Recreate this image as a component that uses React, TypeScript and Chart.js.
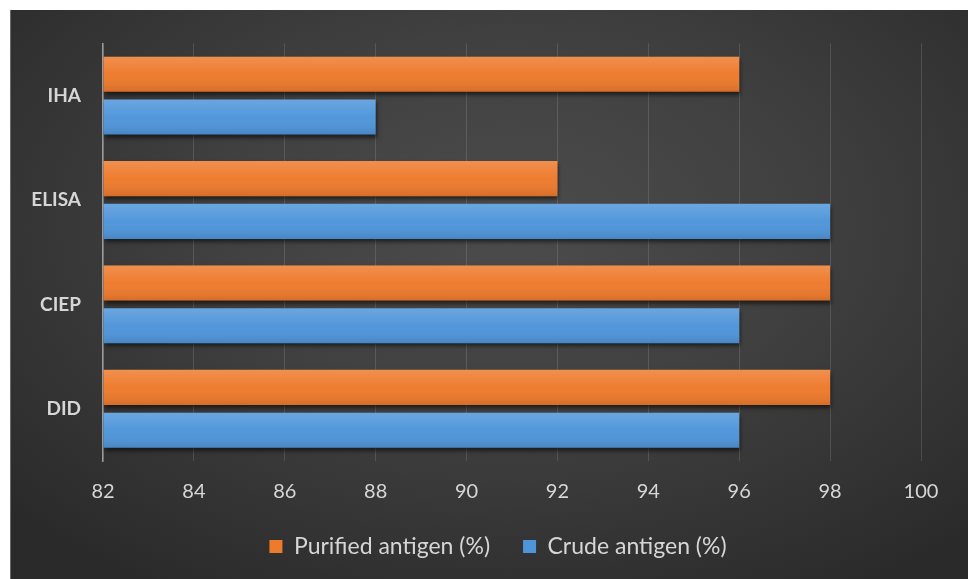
import React, { useEffect, useRef } from "react";
import { Chart, registerables } from "chart.js";

Chart.register(...registerables);

const categories = ["IHA", "ELISA", "CIEP", "DID"];
const purifiedValues = [96, 92, 98, 98];
const crudeValues = [88, 98, 96, 96];
const seriesLabels = ["Purified antigen (%)", "Crude antigen (%)"];
const axisMin = 82;
const axisMax = 100;
const axisStep = 2;

const FONT = "Lato, 'Open Sans', sans-serif";
const TEXT = "#d6d6d6";

// Soft drop shadow under each dataset's bars
const barShadow = {
  id: "barShadow",
  beforeDatasetDraw(chart: any) {
    const ctx = chart.ctx;
    ctx.save();
    ctx.shadowColor = "rgba(0,0,0,0.55)";
    ctx.shadowBlur = 4;
    ctx.shadowOffsetX = 1;
    ctx.shadowOffsetY = 3;
  },
  afterDatasetDraw(chart: any) {
    chart.ctx.restore();
  },
};

// Light-to-dark vertical sheen over each bar
const barSheen = {
  id: "barSheen",
  afterDatasetsDraw(chart: any) {
    const ctx = chart.ctx;
    const area = chart.chartArea;
    ctx.save();
    ctx.beginPath();
    ctx.rect(area.left, area.top, area.right - area.left, area.bottom - area.top);
    ctx.clip();
    chart.data.datasets.forEach((_: any, di: number) => {
      const meta = chart.getDatasetMeta(di);
      meta.data.forEach((el: any) => {
        const { x, y, base, height } = el.getProps(["x", "y", "base", "height"], true);
        const top = y - height / 2;
        const g = ctx.createLinearGradient(0, top, 0, top + height);
        g.addColorStop(0, "rgba(255,255,255,0.16)");
        g.addColorStop(0.5, "rgba(255,255,255,0.02)");
        g.addColorStop(1, "rgba(0,0,0,0.10)");
        ctx.fillStyle = g;
        ctx.fillRect(Math.min(base, x), top, Math.abs(x - base), height);
      });
    });
    ctx.restore();
  },
};

// Nudge the legend so it sits under the middle of the plot
const legendShift = {
  id: "legendShift",
  beforeDraw(chart: any) {
    const lg = chart.legend;
    if (lg && !lg._shifted) {
      lg.left += 32;
      lg.right += 32;
      lg._shifted = true;
    }
  },
};

export default function App() {
  const canvasRef = useRef<HTMLCanvasElement | null>(null);

  useEffect(() => {
    if (!canvasRef.current) return;
    const chart = new Chart(canvasRef.current, {
      type: "bar",
      data: {
        labels: categories,
        datasets: [
          {
            label: seriesLabels[0],
            data: purifiedValues,
            base: axisMin,
            backgroundColor: "#ee7a2c",
            borderWidth: 0,
            categoryPercentage: 0.82,
            barPercentage: 0.82,
          },
          {
            label: seriesLabels[1],
            data: crudeValues,
            base: axisMin,
            backgroundColor: "#4f95da",
            borderWidth: 0,
            categoryPercentage: 0.82,
            barPercentage: 0.82,
          },
        ],
      },
      options: {
        indexAxis: "y",
        animation: false,
        responsive: false,
        maintainAspectRatio: false,
        layout: { padding: { top: 29, right: 47, bottom: 11, left: 0 } },
        scales: {
          x: {
            min: axisMin,
            max: axisMax,
            ticks: {
              stepSize: axisStep,
              color: TEXT,
              padding: 19,
              font: { family: FONT, size: 20 },
            },
            grid: {
              color: "rgba(255,255,255,0.13)",
              lineWidth: 1,
              drawTicks: false,
            },
            border: { display: false },
            afterFit(scale: any) {
              scale.height = 41;
            },
          },
          y: {
            ticks: {
              color: TEXT,
              padding: 22,
              font: { family: FONT, size: 19, weight: "bold" },
            },
            grid: { display: false, drawTicks: false },
            border: { display: true, color: "#9a9a9a", width: 1.5 },
            afterFit(scale: any) {
              scale.width = 92;
            },
          },
        },
        plugins: {
          legend: {
            position: "bottom",
            labels: {
              color: TEXT,
              font: { family: FONT, size: 23 },
              boxWidth: 13,
              boxHeight: 13,
              padding: 33,
            },
          },
          tooltip: { enabled: false },
        },
      },
      plugins: [barShadow, barSheen, legendShift],
    } as any);
    return () => chart.destroy();
  }, []);

  return (
    <div
      style={{
        position: "absolute",
        left: 10,
        top: 10,
        width: 958,
        height: 569,
        borderLeft: "1px solid #6a6a6a",
        boxSizing: "border-box",
        background:
          "radial-gradient(ellipse 70% 75% at 52% 38%, #4c4c4c 0%, #404040 45%, #2a2a2a 100%)",
      }}
    >
      <canvas ref={canvasRef} width={957} height={569} style={{ display: "block" }} />
    </div>
  );
}
